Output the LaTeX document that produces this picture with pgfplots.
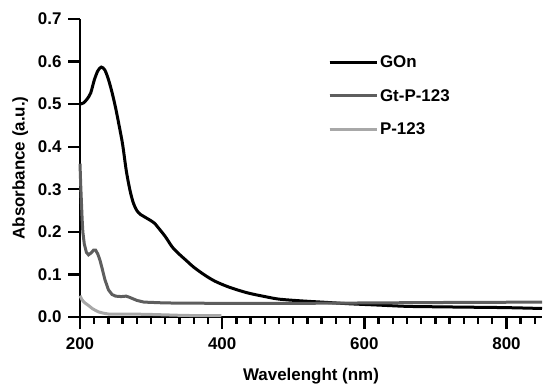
\documentclass[border=0pt]{standalone}
\usepackage{fontspec}
\setmainfont{Liberation Sans}
\usepackage{pgfplots}
\pgfplotsset{compat=1.18}
\definecolor{cgt}{HTML}{5E5E5E}
\definecolor{cp}{HTML}{A8A8A8}
\begin{document}
\begin{tikzpicture}
\begin{axis}[
  scale only axis,
  width=462bp, height=298bp,
  xmin=200, xmax=850, ymin=0, ymax=0.7,
  axis lines*=left,
  axis line style={line width=2.4bp, -},
  xtick={200,400,600,800},
  minor xtick={220,240,...,840},
  ytick={0,0.1,0.2,0.3,0.4,0.5,0.6,0.7},
  tick align=outside,
  major tick length=12bp, minor tick length=6.5bp,
  every major tick/.append style={draw=black, line width=2.4bp},
  every minor tick/.append style={draw=black, line width=2.4bp},
  /pgf/number format/assume math mode=true,
  yticklabel style={/tikz/xshift=-3bp, /pgf/number format/.cd, fixed, fixed zerofill, precision=1},
  xticklabel style={/tikz/yshift=-5bp, /pgf/number format/.cd, fixed, 1000 sep={}},
  tick label style={/tikz/font=\fontsize{17}{20}\selectfont\bfseries},
  label style={font=\fontsize{17}{20}\selectfont\bfseries},
  xlabel={Wavelenght (nm)},
  ylabel={Absorbance (a.u.)},
  xlabel style={yshift=-12bp},
  ylabel style={yshift=3bp},
  legend style={draw=none, fill=none, at={(rel axis cs:0.53,0.89)}, anchor=north west,
    font=\fontsize{17}{20}\selectfont\bfseries, row sep=16bp},
  legend cell align=left,
  legend image code/.code={\draw[#1] (0bp,0bp) -- (33bp,0bp); \path (0bp,0bp) -- (47bp,0bp);},
  clip=false,
]
\addplot[black, line width=3bp, smooth] coordinates {
(200,0.500) (205,0.503) (210,0.512) (215,0.526) (220,0.556) (225,0.578) (230,0.587)
(235,0.580) (240,0.558) (245,0.528) (250,0.492) (255,0.450) (260,0.405) (265,0.345)
(270,0.300) (275,0.268) (280,0.250) (285,0.241) (290,0.236) (295,0.231) (300,0.226)
(305,0.220) (310,0.210) (320,0.189) (330,0.164) (340,0.147) (350,0.132) (360,0.117)
(375,0.099) (390,0.084) (410,0.070) (435,0.057) (460,0.048) (480,0.042) (510,0.038)
(540,0.035) (580,0.031) (620,0.028) (660,0.025) (700,0.024) (750,0.023) (800,0.022) (850,0.020)
};
\addlegendentry{GOn}
\addplot[cgt, line width=3bp] coordinates {
(200,0.360) (201,0.310) (202,0.270) (203,0.230) (204,0.200) (206,0.172) (209,0.152)
(212,0.146) (216,0.151) (219,0.157) (222,0.157) (225,0.148) (228,0.134) (231,0.115)
(235,0.088) (240,0.064) (245,0.053) (250,0.049) (258,0.048) (265,0.049) (270,0.046)
(280,0.039) (290,0.035) (320,0.033) (400,0.032) (500,0.032) (600,0.033) (700,0.034) (850,0.035)
};
\addlegendentry{Gt-P-123}
\addplot[cp, line width=3bp] coordinates {
(200,0.050) (203,0.040) (207,0.033) (212,0.027) (218,0.019) (226,0.012) (233,0.009)
(240,0.007) (270,0.007) (300,0.006) (340,0.004) (370,0.003) (399,0.003)
};
\addlegendentry{P-123}
\pgfplotsinvokeforeach{220,240,260,280,300,320,340,360,380,420,440,460,480,500,520,540,560,580,620,640,660,680,700,720,740,760,780,820,840}{
  \draw[line width=2.4bp] (axis cs:#1,0) -- ([yshift=-6.5bp]axis cs:#1,0);
}
\pgfplotsinvokeforeach{200,400,600,800}{
  \draw[line width=2.4bp] (axis cs:#1,0) -- ([yshift=-12bp]axis cs:#1,0);
}
\coordinate (SW) at (rel axis cs:0,0);
\coordinate (NE) at (rel axis cs:1,1);
\end{axis}
\pgfresetboundingbox
\path[use as bounding box] ([shift={(-80bp,-70bp)}]SW) rectangle ([shift={(8bp,19bp)}]NE);
\end{tikzpicture}
\end{document}
